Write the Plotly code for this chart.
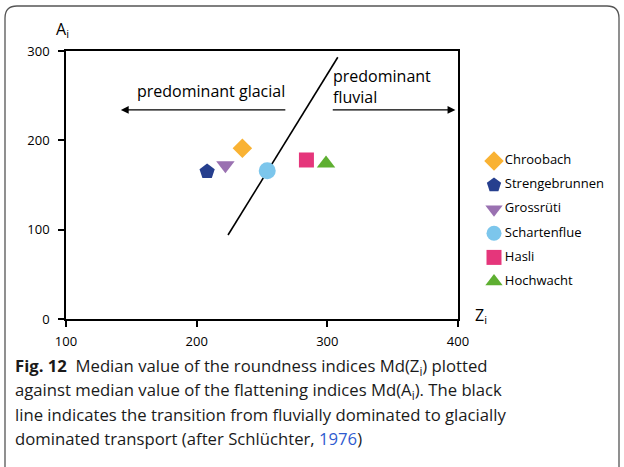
import plotly.graph_objects as go

# ---- data ----
sites = ["Chroobach", "Strengebrunnen", "Grossrüti", "Schartenflue", "Hasli", "Hochwacht"]
zi_values = [235, 208, 222, 254, 284, 299]
ai_values = [191, 165, 172, 166, 178, 174]
symbols = ["diamond", "pentagon", "triangle-down", "circle", "square", "triangle-up"]
colors = ["#F9B233", "#263F8E", "#9A71B1", "#7CC6EC", "#E5367B", "#5EAF31"]
sizes = [15, 16, 16, 17, 15, 16]
legend_sizes = [15, 15, 15, 15, 15, 15]

line_x = [224, 308]
line_y = [94, 293]

x_ticks = [100, 200, 300, 400]
y_ticks = [0, 100, 200, 300]

caption_lines = [
    "<b>Fig. 12</b>  Median value of the roundness indices Md(Z<sub>i</sub>) plotted",
    "against median value of the flattening indices Md(A<sub>i</sub>). The black",
    "line indicates the transition from fluvially dominated to glacially",
    "dominated transport (after Schlüchter, <span style='color:#2F5BD0'>1976</span>)",
]

W, H = 624, 467
ML, MT, MB = 66, 51, 319          # paper area left / top / bottom in pixels
PR = W                           # paper right edge
PLOT_R = 458                     # right edge of the main plot


def px(xp):
    return (xp - ML) / (PR - ML)


def py(yp):
    return (MB - yp) / (MB - MT)


fig = go.Figure()

fig.add_trace(go.Scatter(x=line_x, y=line_y, mode="lines",
                         line=dict(color="black", width=1.6),
                         showlegend=False, hoverinfo="skip"))

for i, s in enumerate(sites):
    fig.add_trace(go.Scatter(
        x=[zi_values[i]], y=[ai_values[i]], mode="markers", name=s,
        marker=dict(symbol=symbols[i], color=colors[i], size=sizes[i],
                    opacity=1, line=dict(width=0)),
        showlegend=False,
    ))

# legend drawn as its own small panel (markers, then labels)
for i, s in enumerate(sites):
    fig.add_trace(go.Scatter(
        x=[0], y=[i], mode="markers",
        marker=dict(symbol=symbols[i], color=colors[i], size=legend_sizes[i],
                    opacity=1, line=dict(width=0)),
        xaxis="x2", yaxis="y2", showlegend=False, cliponaxis=False, hoverinfo="skip",
    ))
fig.add_trace(go.Scatter(
    x=[0.45] * len(sites), y=list(range(len(sites))), mode="text",
    text=sites, textposition="middle right",
    textfont=dict(family="Open Sans", size=13, color="black"),
    xaxis="x2", yaxis="y2", showlegend=False, cliponaxis=False, hoverinfo="skip",
))

FONT = "Open Sans"

annotations = []
annotations.append(dict(x=142, y=234, ax=269, ay=234, xref="x", yref="y", axref="x", ayref="y",
                        showarrow=True, arrowhead=2, arrowsize=1.3, arrowwidth=1.2,
                        arrowcolor="black", text=""))
annotations.append(dict(x=398, y=234, ax=303, ay=234, xref="x", yref="y", axref="x", ayref="y",
                        showarrow=True, arrowhead=2, arrowsize=1.3, arrowwidth=1.2,
                        arrowcolor="black", text=""))
annotations.append(dict(x=269, y=255, xref="x", yref="y", text="predominant glacial",
                        showarrow=False, xanchor="right", yanchor="middle",
                        font=dict(family=FONT, size=16, color="black")))
annotations.append(dict(x=303, y=260, xref="x", yref="y", text="predominant<br>fluvial",
                        showarrow=False, xanchor="left", yanchor="middle", align="left",
                        font=dict(family=FONT, size=16, color="black")))
annotations.append(dict(x=px(62), y=py(30), xref="paper", yref="paper", text="A<sub>i</sub>",
                        showarrow=False, xanchor="center", yanchor="middle",
                        font=dict(family=FONT, size=16, color="black")))
annotations.append(dict(x=px(481), y=py(315), xref="paper", yref="paper", text="Z<sub>i</sub>",
                        showarrow=False, xanchor="center", yanchor="middle",
                        font=dict(family=FONT, size=16, color="black")))
cap_y = [366, 390, 414, 438]
for t, yy in zip(caption_lines, cap_y):
    annotations.append(dict(x=px(13), y=py(yy), xref="paper", yref="paper", text=t,
                            showarrow=False, xanchor="left", yanchor="middle", align="left",
                            font=dict(family=FONT, size=16.7, color="#1a1a1a")))

r = 12
x0, y0, x1, y1 = 5, 6, 619, 490
path = (f"M {px(x0)},{py(y1)} L {px(x0)},{py(y0 + r)} "
        f"Q {px(x0)},{py(y0)} {px(x0 + r)},{py(y0)} "
        f"L {px(x1 - r)},{py(y0)} Q {px(x1)},{py(y0)} {px(x1)},{py(y0 + r)} "
        f"L {px(x1)},{py(y1)}")
shapes = [dict(type="path", path=path, xref="paper", yref="paper",
               line=dict(color="#555555", width=1.3), layer="above")]

# legend panel geometry: row 0 at y=161px, 24.1px per row, marker column at x=494px
row0, step = 161, 24.1
y2_top = -(row0 - MT) / step
y2_bot = y2_top + (MB - MT) / step
lg_left = 480
x2_lo = -(494 - lg_left) / step

fig.update_layout(
    width=W, height=H,
    margin=dict(l=ML, r=W - PR, t=MT, b=H - MB, autoexpand=False),
    paper_bgcolor="white", plot_bgcolor="white",
    font=dict(family=FONT, size=13, color="black"),
    xaxis=dict(domain=[0, px(PLOT_R)], range=[100, 400], tickvals=x_ticks,
               ticks="outside", ticklen=6, tickwidth=1.5, tickcolor="black",
               showline=True, linecolor="black", linewidth=1.6, mirror=True,
               showgrid=False, zeroline=False,
               tickfont=dict(family=FONT, size=13), ticklabelstandoff=4),
    yaxis=dict(range=[0, 300], tickvals=y_ticks, ticks="outside", ticklen=6,
               tickwidth=1.5, tickcolor="black", showline=True, linecolor="black",
               linewidth=1.6, mirror=True, showgrid=False, zeroline=False,
               tickfont=dict(family=FONT, size=13), ticklabelstandoff=6),
    xaxis2=dict(domain=[px(lg_left), 1], range=[x2_lo, x2_lo + (PR - lg_left) / step],
                visible=False, fixedrange=True, anchor="y2"),
    yaxis2=dict(domain=[0, 1], range=[y2_bot, y2_top], visible=False,
                anchor="x2", fixedrange=True),
    annotations=annotations,
    shapes=shapes,
    showlegend=False,
)

fig.write_html("out.html")
